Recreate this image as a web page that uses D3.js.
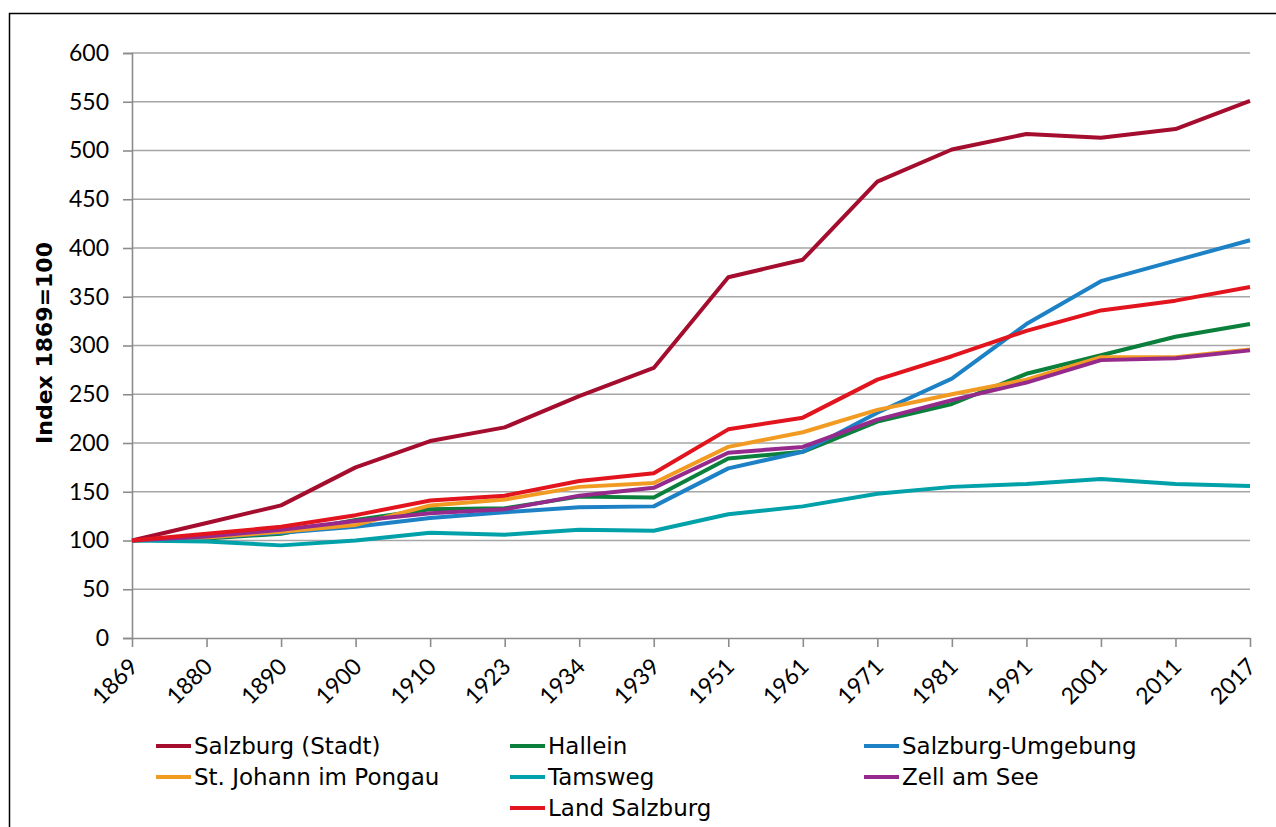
<!DOCTYPE html>
<html><head><meta charset="utf-8">
<script src="https://cdn.jsdelivr.net/npm/d3@7"></script>
<style>
html,body{margin:0;padding:0;background:#fff;}
svg{display:block;}
text{font-family:"DejaVu Sans",sans-serif;fill:#000;}
</style></head><body>
<svg id="chart" width="1276" height="827"></svg>
<script>
const years = ["1869","1880","1890","1900","1910","1923","1934","1939","1951","1961","1971","1981","1991","2001","2011","2017"];
const yTicks = [0,50,100,150,200,250,300,350,400,450,500,550,600];
const seriesNames = ["Salzburg (Stadt)","Hallein","Salzburg-Umgebung","St. Johann im Pongau","Tamsweg","Zell am See","Land Salzburg"];
const seriesColors = ["#A50D2E","#0B7F3C","#1C81C5","#F29B23","#00A1A9","#962A8C","#E2141D"];
const salzburgStadt  = [100,118,136,175,202,216,248,277,370,388,468,501,517,513,522,551];
const hallein        = [100,102,107,121,132,133,145,144,184,191,222,240,271,290,309,322];
const salzburgUmg    = [100,103,108,114,123,129,134,135,174,191,231,266,322,366,387,408];
const stJohann       = [100,103,109,116,136,142,155,159,196,211,234,250,265,288,288,296];
const tamsweg        = [100,99,95,100,108,106,111,110,127,135,148,155,158,163,158,156];
const zellAmSee      = [100,104,111,120,128,132,146,154,190,196,224,244,262,285,287,295];
const landSalzburg   = [100,107,114,126,141,146,161,169,214,226,265,289,315,336,346,360];
const seriesValues = [salzburgStadt,hallein,salzburgUmg,stJohann,tamsweg,zellAmSee,landSalzburg];
// legend slots: [column,row]
const legendSlots = [[0,0],[1,0],[2,0],[0,1],[1,1],[2,1],[1,2]];

const svg = d3.select("#chart");
svg.append("rect").attr("x",9.5).attr("y",13.5).attr("width",1400).attr("height",1000)
  .attr("fill","none").attr("stroke","#000").attr("stroke-width",1.5);

const x = d3.scalePoint().domain(years).range([132,1250]);
const y = d3.scaleLinear().domain([0,600]).range([638,53]);

// gridlines
svg.append("g").selectAll("line").data(yTicks.filter(d=>d>0)).join("line")
  .attr("x1",132).attr("x2",1250).attr("y1",d=>y(d)).attr("y2",d=>y(d))
  .attr("stroke","#a6a6a6").attr("stroke-width",1.6);

// y axis
const yAxis = svg.append("g").attr("transform","translate(132,0)")
  .call(d3.axisLeft(y).tickValues(yTicks).tickSize(9).tickPadding(14));
yAxis.select(".domain").attr("stroke","#8c8c8c").attr("stroke-width",1.6);
yAxis.selectAll(".tick line").attr("stroke","#8c8c8c").attr("stroke-width",1.6);
yAxis.selectAll(".tick text").attr("font-size",23).style("font-family","Lato, sans-serif");

// x axis
const xAxis = svg.append("g").attr("transform","translate(0,638)")
  .call(d3.axisBottom(x).tickSize(9).tickSizeOuter(0));
xAxis.select(".domain").attr("stroke","#8c8c8c").attr("stroke-width",1.6);
xAxis.selectAll(".tick line").attr("stroke","#8c8c8c").attr("stroke-width",1.6);
xAxis.selectAll(".tick text").attr("font-size",23).style("font-family","Lato, sans-serif")
  .attr("text-anchor","end").attr("dy",null).attr("y",0)
  .attr("transform","translate(7,30) rotate(-45)");

// axis title
svg.append("text").attr("transform","translate(52,343) rotate(-90)")
  .attr("text-anchor","middle").attr("font-size",22).attr("font-weight","bold")
  .text("Index 1869=100");

// lines
const line = d3.line().x((d,i)=>x(years[i])).y(d=>y(d));
svg.append("g").selectAll("path").data(seriesValues).join("path")
  .attr("d",line).attr("fill","none")
  .attr("stroke",(d,i)=>seriesColors[i]).attr("stroke-width",4).attr("stroke-linejoin","round");

// legend
const colX = [156,510,864], rowY = [746,777,808];
const lg = svg.append("g").selectAll("g").data(seriesNames).join("g")
  .attr("transform",(d,i)=>`translate(${colX[legendSlots[i][0]]},${rowY[legendSlots[i][1]]})`);
lg.append("line").attr("x1",0).attr("x2",35).attr("y1",0).attr("y2",0)
  .attr("stroke",(d,i)=>seriesColors[i]).attr("stroke-width",4);
lg.append("text").attr("x",38).attr("y",0).attr("dy","0.35em").attr("font-size",23).text(d=>d);
</script>
</body></html>
